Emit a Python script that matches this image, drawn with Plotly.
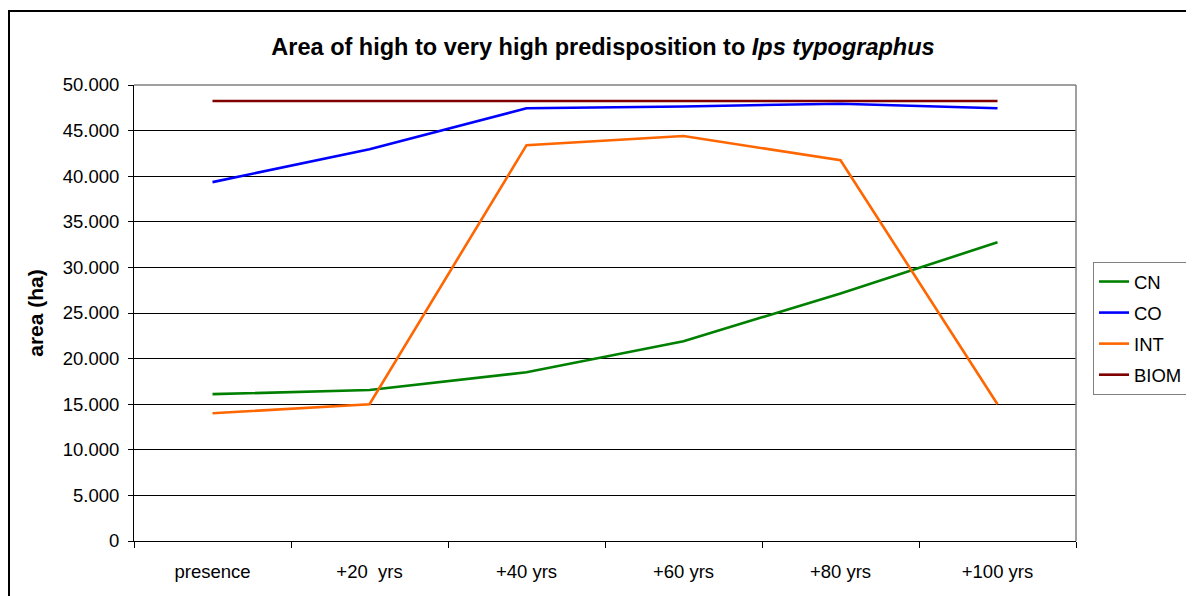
import plotly.graph_objects as go

categories = ["presence", "+20\u00a0 yrs", "+40 yrs", "+60 yrs", "+80 yrs", "+100 yrs"]
cn = [16100, 16550, 18500, 21900, 27150, 32750]
co = [39350, 42950, 47450, 47650, 47950, 47450]
intv = [14000, 15000, 43400, 44400, 41750, 15000]
biom = [48250, 48250, 48250, 48250, 48250, 48250]

series = [("CN", cn, "#008000"), ("CO", co, "#0000FF"), ("INT", intv, "#FF6600"), ("BIOM", biom, "#800000")]

# page has an 8px body margin; figure coordinates are page coordinates minus 8
OFF = 8
W, H = 1194, 596
L, R, T, B = 134 - OFF, 1076 - OFF, 85 - OFF, 541 - OFF

def px(x):
    return (x - OFF - L) / (R - L)

def py(y):
    return (B - (y - OFF)) / (B - T)

fig = go.Figure()
for name, vals, col in series:
    fig.add_trace(go.Scatter(x=categories, y=vals, name=name, mode="lines",
                             legendgroup=name,
                             line=dict(color=col, width=2.6)))

font = "Liberation Sans, Arial, sans-serif"
fig.update_layout(
    width=W, height=H,
    margin=dict(l=L, r=W - R, t=T, b=H - B, pad=0),
    paper_bgcolor="white", plot_bgcolor="white",
    separators=",.",
    font=dict(family=font, size=18.5, color="black"),
    title=dict(text="<b>Area of high to very high predisposition to <i>Ips typographus</i></b>",
               x=(603 - OFF) / W, xanchor="center", y=1 - (47 - OFF) / H, yanchor="middle",
               font=dict(family=font, size=23.5, color="black")),
    showlegend=True,
    legend=dict(x=px(1093), y=py(262), xanchor="left", yanchor="top",
                bordercolor="#808080", borderwidth=1, bgcolor="white",
                font=dict(family=font, size=18.5, color="black"),
                tracegroupgap=4, itemwidth=30),
    xaxis=dict(type="category", range=[-0.5, 5.5], showgrid=False, zeroline=False,
               showline=True, linecolor="black", linewidth=1,
               ticks="outside", ticklen=6, tickcolor="black", tickson="boundaries",
               tickfont=dict(family=font, size=18.5, color="black"), ticklabelstandoff=14),
    yaxis=dict(range=[0, 50000], dtick=5000, tickformat=",", showgrid=True,
               gridcolor="black", gridwidth=1, zeroline=False,
               showline=True, linecolor="black", linewidth=1,
               ticks="outside", ticklen=5, tickcolor="black", ticklabelstandoff=5,
               tickfont=dict(family=font, size=18.5, color="black"),
               title=dict(text="<b>area (ha)</b>", standoff=13,
                          font=dict(family=font, size=21, color="black"))),
)

# plot-area frame (top and right, gray) and outer chart border
fig.add_shape(type="line", xref="paper", yref="paper", x0=0, x1=1, y0=1, y1=1,
              line=dict(color="#808080", width=1.5), layer="above")
fig.add_shape(type="line", xref="paper", yref="paper", x0=1, x1=1, y0=0, y1=1,
              line=dict(color="#808080", width=1.5), layer="above")
fig.add_shape(type="rect", xref="paper", yref="paper",
              x0=px(9), x1=px(1215), y0=py(11), y1=py(620),
              line=dict(color="black", width=2), fillcolor="rgba(0,0,0,0)", layer="above")

fig.write_html("out.html")
